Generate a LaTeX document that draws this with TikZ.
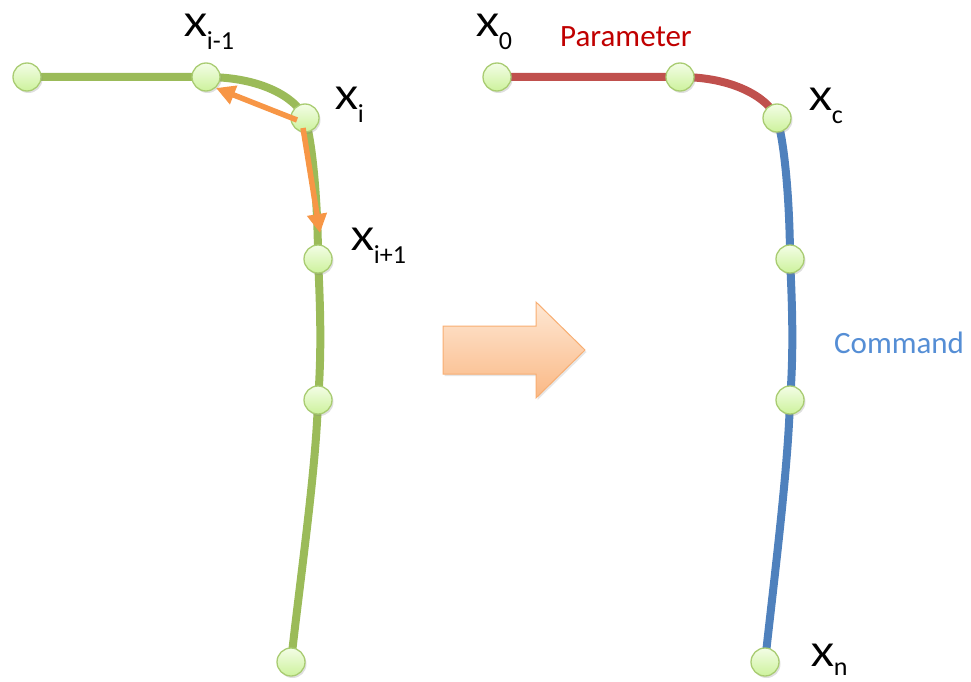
\documentclass[tikz,border=0pt]{standalone}
\usepackage{fontspec}
\setmainfont{Carlito}
\newfontfamily\xfont{Carlito}[FakeStretch=1.25]
\usetikzlibrary{arrows.meta,shadows}
\definecolor{gline}{HTML}{9BBB59}
\definecolor{rline}{HTML}{C0504D}
\definecolor{bline}{HTML}{4F81BD}
\definecolor{oline}{HTML}{F79646}
\definecolor{ptTop}{HTML}{F3FDE6}
\definecolor{ptBot}{HTML}{CDF29C}
\definecolor{ptBorder}{HTML}{A9CC72}
\definecolor{arTop}{HTML}{FEE8D4}
\definecolor{arBot}{HTML}{FAB885}
\definecolor{arBorder}{HTML}{F8AE72}
\definecolor{partext}{HTML}{C00000}
\definecolor{comtext}{HTML}{558ED5}
\pgfdeclarelayer{background}
\pgfsetlayers{background,main}
\tikzset{
  pt/.style={circle, minimum size=28pt, inner sep=0pt, line width=1.3pt,
    draw=ptBorder, top color=ptTop, bottom color=ptBot,
    drop shadow={opacity=0.25, shadow xshift=1.5pt, shadow yshift=-2pt}},
  gcurve/.style={draw=gline, line width=8pt},
  rcurve/.style={draw=rline, line width=8pt},
  bcurve/.style={draw=bline, line width=8pt},
  oarrow/.style={draw=oline, line width=5.5pt, -{Triangle[length=19pt,width=19pt]}},
  lab/.style={anchor=base west, inner sep=0pt, font=\fontsize{35}{35}\selectfont},
  bigtext/.style={anchor=base west, inner sep=0pt, font=\fontsize{31}{31}\selectfont},
}
\newcommand{\xlab}[1]{{\xfont X}\raisebox{-13pt}{\fontsize{26}{26}\selectfont #1}}
\begin{document}
\begin{tikzpicture}[x=1pt,y=-1pt]
\useasboundingbox (0,0) rectangle (971,682);
% left points
\node[pt] (a1) at (27,77) {};
\node[pt] (a2) at (206,77) {};
\node[pt] (a3) at (305,118) {};
\node[pt] (a4) at (318,259) {};
\node[pt] (a5) at (318,400) {};
\node[pt] (a6) at (291,662) {};
% right points
\node[pt] (b1) at (497,77) {};
\node[pt] (b2) at (680,77) {};
\node[pt] (b3) at (777,118) {};
\node[pt] (b4) at (790,259) {};
\node[pt] (b5) at (790,400) {};
\node[pt] (b6) at (765,662) {};
\begin{pgfonlayer}{background}
  \draw[gcurve] (a1.center) -- (a2.center)
     .. controls (262,77) and (296,98) .. (a3.center)
     .. controls (314,148) and (318,215) .. (a4.center)
     .. controls (320,300) and (322,350) .. (a5.center)
     .. controls (316,470) and (300,580) .. (a6.center);
  \draw[rcurve] (b1.center) -- (b2.center)
     .. controls (734,77) and (768,98) .. (b3.center);
  \draw[bcurve] (b3.center)
     .. controls (786,148) and (790,215) .. (b4.center)
     .. controls (792,300) and (794,350) .. (b5.center)
     .. controls (788,470) and (774,580) .. (b6.center);
\end{pgfonlayer}
% orange arrows
\coordinate (t1) at (216,88);
\coordinate (t2) at (320,233);
\draw[oarrow] (a3.center) ++(-8,2) -- (t1);
\draw[oarrow] (a3.center) ++(-2,10) -- (t2);
% big arrow
\draw[draw=arBorder, line width=1pt, top color=arTop, bottom color=arBot,
      drop shadow={opacity=0.2, shadow xshift=1.5pt, shadow yshift=-2pt}]
  (443,326) -- (536,326) -- (536,302) -- (585,350) -- (536,398) -- (536,374) -- (443,374) -- cycle;
% labels
\node[lab] (la2) at (184,37) {\xlab{i-1}};
\node[lab] (la3) at (335,110) {\xlab{i}};
\node[lab] (la4) at (351,250) {\xlab{i+1}};
\node[lab] (lb1) at (476,37) {\xlab{0}};
\node[lab] (lb3) at (809,111) {\xlab{c}};
\node[lab] (lb6) at (811,666) {{\xfont X}\raisebox{-9pt}{\fontsize{26}{26}\selectfont n}};
\node[bigtext, text=partext] (par) at (560,47) {Parameter};
\node[bigtext, text=comtext] (com) at (834,353) {Command};
\end{tikzpicture}
\end{document}
